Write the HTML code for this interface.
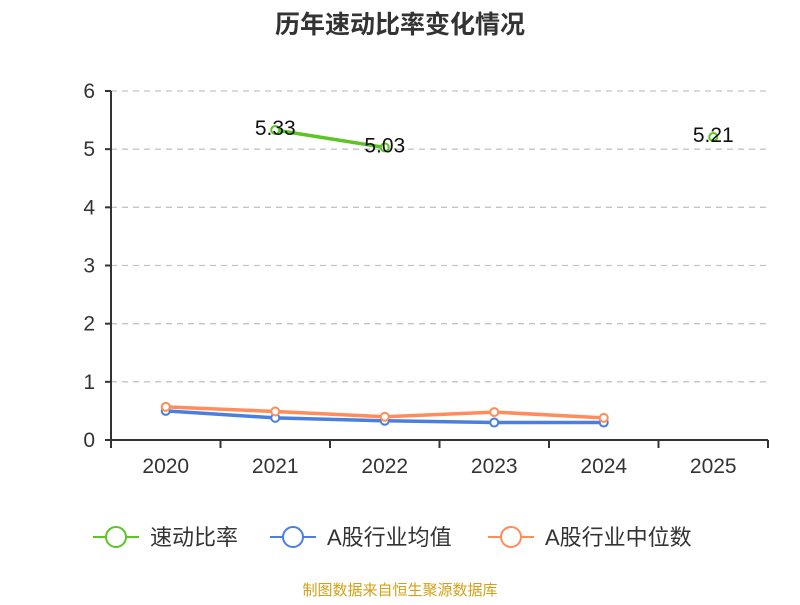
<!DOCTYPE html>
<html><head><meta charset="utf-8"><style>
body{margin:0;background:#fff;width:800px;height:600px;overflow:hidden}
svg{font-family:"Liberation Sans","Noto Sans CJK SC",sans-serif}
</style></head><body>
<svg id="c" width="800" height="600">
<text x="400" y="33" text-anchor="middle" font-size="25" font-weight="bold" fill="#333">历年速动比率变化情况</text>
<g id="grid"></g><g id="axes"></g><g id="series"></g>
<g id="legend"></g>
<text x="400" y="595" text-anchor="middle" font-size="15" fill="#d4a017">制图数据来自恒生聚源数据库</text>
</svg>
<script>
const categories=["2020","2021","2022","2023","2024","2025"];
const yTicks=[0,1,2,3,4,5,6];
const quickRatio=[null,5.33,5.03,null,null,5.21];
const industryAvg=[0.50,0.38,0.33,0.30,0.30,null];
const industryMedian=[0.57,0.49,0.40,0.48,0.38,null];
const ns="http://www.w3.org/2000/svg";
const X0=111,X1=768,Y0=440,Y1=91,bw=(X1-X0)/categories.length;
const xs=i=>X0+bw*(i+0.5), ys=v=>Y0-(v/6)*(Y0-Y1);
function mk(p,t,a){const e=document.createElementNS(ns,t);for(const k in a)e.setAttribute(k,a[k]);p.appendChild(e);return e}
const grid=document.getElementById('grid'),axes=document.getElementById('axes'),ser=document.getElementById('series'),leg=document.getElementById('legend');
yTicks.forEach(v=>{
 if(v>0){const l=mk(grid,'line',{x1:X0,x2:X1,y1:ys(v),y2:ys(v),stroke:'#c4c4c4','stroke-dasharray':'6,5','stroke-width':1.3});
 
 }
 const t=mk(axes,'text',{x:X0-16,y:ys(v)+7,'text-anchor':'end','font-size':21,fill:'#333'});t.textContent=v;
 
 
 mk(axes,'line',{x1:X0-6,x2:X0,y1:ys(v),y2:ys(v),stroke:'#333','stroke-width':2});
});
mk(axes,'line',{x1:X0,x2:X0,y1:Y1,y2:Y0,stroke:'#333','stroke-width':2});
mk(axes,'line',{x1:X0,x2:X1,y1:Y0,y2:Y0,stroke:'#333','stroke-width':2});
for(let i=0;i<=categories.length;i++)mk(axes,'line',{x1:X0+bw*i,x2:X0+bw*i,y1:Y0,y2:Y0+8,stroke:'#333','stroke-width':2});
categories.forEach((c,i)=>{const t=mk(axes,'text',{x:xs(i),y:473,'text-anchor':'middle','font-size':21,fill:'#333'});t.textContent=c;
 
 });
function draw(data,color,name,labels){
 const g=mk(ser,'g',{});
 
 
 let seg=[];const segs=[];
 data.forEach((v,i)=>{if(v==null){if(seg.length)segs.push(seg);seg=[]}else seg.push([xs(i),ys(v)])});
 if(seg.length)segs.push(seg);
 segs.forEach(s=>{if(s.length>1)mk(g,'polyline',{points:s.map(p=>p.join(',')).join(' '),fill:'none',stroke:color,'stroke-width':3.5})});
 data.forEach((v,i)=>{if(v==null)return;
  const c=mk(g,'circle',{cx:xs(i),cy:ys(v),r:4,fill:'#fff',stroke:color,'stroke-width':2});
  
  
  if(labels){const t=mk(g,'text',{x:xs(i),y:ys(v)+5,'text-anchor':'middle','font-size':21,fill:'#111'});t.textContent=v.toFixed(2);
   
   }
 });
}
draw(industryAvg,'#4a7fdf','series-industry-avg',false);
draw(industryMedian,'#ff8c5a','series-industry-median',false);
draw(quickRatio,'#5cc425','series-quick-ratio',true);
[["速动比率","#5cc425",93],["A股行业均值","#4a7fdf",270],["A股行业中位数","#ff8c5a",488]].forEach(([n,c,x])=>{
 const g=mk(leg,'g',{});
 
 
 mk(g,'line',{x1:x,x2:x+46,y1:537,y2:537,stroke:c,'stroke-width':2});
 mk(g,'circle',{cx:x+23,cy:537,r:10,fill:'#fff',stroke:c,'stroke-width':2});
 const t=mk(g,'text',{x:x+57,y:545,'font-size':22,fill:'#333'});t.textContent=n;
});
</script>
</body></html>
